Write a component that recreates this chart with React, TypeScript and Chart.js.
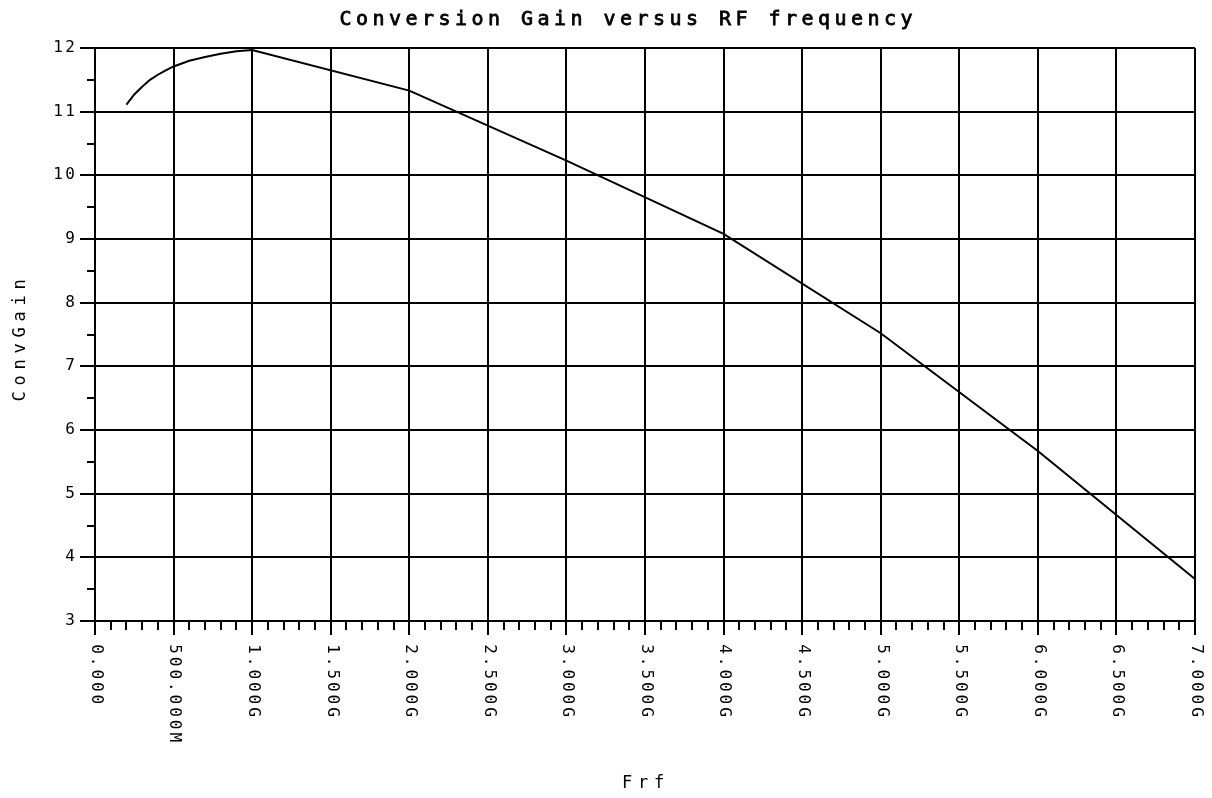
import React, { useEffect, useRef } from "react";
import { Chart, registerables } from "chart.js";

Chart.register(...registerables);

// ---- data ----
const freqGHz = [0.2, 0.25, 0.3, 0.35, 0.4, 0.45, 0.5, 0.6, 0.7, 0.8, 0.9, 1.0, 2.0, 3.0, 4.0, 5.0, 6.0, 7.0];
const convGain = [11.11, 11.27, 11.39, 11.5, 11.58, 11.65, 11.71, 11.8, 11.86, 11.91, 11.95, 11.97, 11.33, 10.23, 9.08, 7.52, 5.67, 3.66];

const xTickValues = [0, 0.5, 1, 1.5, 2, 2.5, 3, 3.5, 4, 4.5, 5, 5.5, 6, 6.5, 7];
const xTickLabels = [
  "0.000", "500.000M", "1.000G", "1.500G", "2.000G", "2.500G", "3.000G", "3.500G",
  "4.000G", "4.500G", "5.000G", "5.500G", "6.000G", "6.500G", "7.000G",
];
const yTickValues = [3, 4, 5, 6, 7, 8, 9, 10, 11, 12];
const yTickLabels = ["3", "4", "5", "6", "7", "8", "9", "10", "11", "12"];

const titleText = "Conversion Gain versus RF frequency";
const xTitleText = "Frf";
const yTitleText = "ConvGain";

const FONT = '"DejaVu Sans Mono", "Liberation Mono", monospace';

function drawPitched(
  ctx: CanvasRenderingContext2D,
  text: string,
  startCenter: number,
  pitch: number,
  stroke = 0
) {
  for (let i = 0; i < text.length; i++) {
    ctx.fillText(text[i], startCenter + i * pitch, 0);
    if (stroke > 0) {
      ctx.lineWidth = stroke;
      ctx.strokeText(text[i], startCenter + i * pitch, 0);
    }
  }
}

const decorPlugin = {
  id: "decor",
  afterDraw(chart: any) {
    const ctx: CanvasRenderingContext2D = chart.ctx;
    const xs = chart.scales.x;
    const ys = chart.scales.y;
    const area = chart.chartArea;
    ctx.save();
    ctx.strokeStyle = "#000";
    ctx.fillStyle = "#000";
    ctx.lineWidth = 2;

    // x minor + major ticks
    for (let i = 0; i <= 70; i++) {
      const v = i / 10;
      const px = Math.round(xs.getPixelForValue(v));
      const major = i % 5 === 0;
      ctx.beginPath();
      ctx.moveTo(px, area.bottom);
      ctx.lineTo(px, area.bottom + (major ? 14 : 9));
      ctx.stroke();
    }
    // y minor + major ticks
    for (let i = 0; i <= 18; i++) {
      const v = 3 + i / 2;
      const py = Math.round(ys.getPixelForValue(v));
      const major = i % 2 === 0;
      ctx.beginPath();
      ctx.moveTo(area.left, py);
      ctx.lineTo(area.left - (major ? 15 : 8), py);
      ctx.stroke();
    }

    // y tick labels
    ctx.font = `16px ${FONT}`;
    ctx.textBaseline = "middle";
    ctx.textAlign = "center";
    yTickValues.forEach((v, k) => {
      const label = yTickLabels[k];
      const py = ys.getPixelForValue(v);
      const pitch = 12;
      const lastCenter = area.left - 25;
      ctx.save();
      ctx.translate(0, py);
      drawPitched(ctx, label, lastCenter - (label.length - 1) * pitch, pitch);
      ctx.restore();
    });

    // x tick labels (rotated clockwise, reading downward)
    xTickValues.forEach((v, k) => {
      const label = xTickLabels[k];
      const px = xs.getPixelForValue(v) + 1;
      ctx.save();
      ctx.translate(px, area.bottom + 28);
      ctx.rotate(Math.PI / 2);
      drawPitched(ctx, label, 0, 12.6);
      ctx.restore();
    });

    // title
    ctx.font = `20px ${FONT}`;
    ctx.save();
    const tPitch = 16.5;
    const tCenter = 626;
    ctx.translate(0, 20);
    drawPitched(ctx, titleText, tCenter - ((titleText.length - 1) * tPitch) / 2, tPitch, 0.8);
    ctx.restore();

    // x axis title
    ctx.font = `17px ${FONT}`;
    ctx.save();
    ctx.translate(0, 784);
    const xtp = 16;
    drawPitched(ctx, xTitleText, 643 - ((xTitleText.length - 1) * xtp) / 2, xtp);
    ctx.restore();

    // y axis title (reading upward)
    ctx.save();
    ctx.translate(21, (area.top + area.bottom) / 2 + 6);
    ctx.rotate(-Math.PI / 2);
    const ytp = 16;
    drawPitched(ctx, yTitleText, -((yTitleText.length - 1) * ytp) / 2, ytp);
    ctx.restore();

    ctx.restore();
  },
};

export default function App() {
  const canvasRef = useRef<HTMLCanvasElement | null>(null);

  useEffect(() => {
    document.body.style.margin = "0";
    document.body.style.background = "#fff";
    const canvas = canvasRef.current;
    if (!canvas) return;
    const chart = new Chart(canvas, {
      type: "line",
      data: {
        datasets: [
          {
            data: freqGHz.map((f, i) => ({ x: f, y: convGain[i] })),
            borderColor: "#000",
            borderWidth: 2,
            pointRadius: 0,
            tension: 0,
            fill: false,
          },
        ],
      },
      options: {
        responsive: false,
        animation: false,
        devicePixelRatio: 1,
        layout: { padding: { left: 95, top: 48, right: 17, bottom: 177 } },
        plugins: {
          legend: { display: false },
          title: { display: false },
          tooltip: { enabled: false },
        },
        scales: {
          x: {
            type: "linear",
            min: 0,
            max: 7,
            ticks: { display: false, stepSize: 0.5 },
            grid: { color: "#000", lineWidth: 2, drawTicks: false },
            border: { display: true, color: "#000", width: 2 },
          },
          y: {
            type: "linear",
            min: 3,
            max: 12,
            ticks: { display: false, stepSize: 1 },
            grid: { color: "#000", lineWidth: 2, drawTicks: false },
            border: { display: true, color: "#000", width: 2 },
          },
        },
      },
      plugins: [decorPlugin],
    });
    return () => chart.destroy();
  }, []);

  return (
    <div style={{ width: 1212, height: 798, background: "#fff" }}>
      <canvas ref={canvasRef} width={1212} height={798} style={{ display: "block" }} />
    </div>
  );
}
